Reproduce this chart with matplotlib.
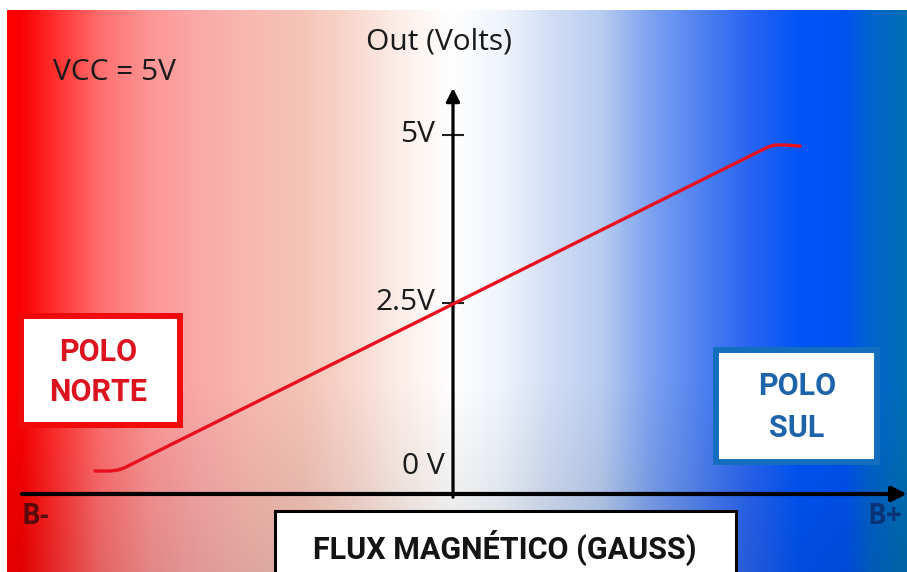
import numpy as np
import matplotlib.pyplot as plt
from matplotlib.patches import Rectangle

# sensor output curve: flux (arbitrary gauss units, 0 at the vertical axis) vs output volts
flux_g = [-358, -343, -335, -329, -323, 309, 315, 322, 332, 347]
out_v = [0.0, 0.0, 0.015, 0.045, 0.089, 4.777, 4.821, 4.851, 4.851, 4.836]

tick_v = [2.5, 5.0]
tick_labels = ["2.5V", "5V"]
zero_label = "0 V"

# background colour stops (pixel column -> rgb)
grad_x = [7, 20, 50, 100, 150, 200, 250, 300, 350, 400, 450, 500, 550, 600,
          650, 700, 750, 800, 845, 870, 907]
grad_rgb = [(255, 0, 0), (250, 0, 0), (255, 40, 40), (255, 110, 110),
            (252, 150, 150), (250, 170, 168), (248, 185, 175), (245, 195, 182),
            (248, 215, 205), (252, 238, 233), (255, 255, 255), (240, 245, 252),
            (210, 222, 245), (185, 205, 240), (125, 162, 240), (80, 130, 240),
            (40, 100, 242), (0, 85, 248), (0, 82, 240), (0, 100, 205), (0, 112, 180)]

W, H = 907, 572
fig = plt.figure(figsize=(W / 100, H / 100), dpi=100, facecolor="white")

# overlay axes in pixel coordinates for the decoration
bg = fig.add_axes([0, 0, 1, 1])
bg.set_xlim(0, W)
bg.set_ylim(H, 0)
bg.axis("off")

cols = np.arange(7, W)
rows = np.arange(10, H)
rgb = np.array(grad_rgb, dtype=float) / 255
img = np.stack([np.interp(cols, grad_x, rgb[:, k]) for k in range(3)], axis=-1)
shade = 1 - 0.10 * np.clip((rows - 380) / 190, 0, 1)
img = img[None, :, :] * shade[:, None, None]
bg.imshow(img, extent=[7, W, H, 10], aspect="auto", interpolation="bilinear", zorder=0)

label_font = dict(family="Open Sans", color="#1a1a1a", fontsize=21.5)
box_font = dict(family="Roboto", fontweight="bold", fontsize=22)

# pole boxes
bg.add_patch(Rectangle((21, 316), 159, 109, facecolor="white", edgecolor="#f00a0a", lw=4.3, zorder=2))
bg.text(98, 352, "POLO", ha="center", va="center", color="#dc1420", zorder=3, **box_font)
bg.text(98, 392, "NORTE", ha="center", va="center", color="#dc1420", zorder=3, **box_font)

bg.add_patch(Rectangle((716, 350), 161, 112, facecolor="white", edgecolor="#146ebe", lw=4.3, zorder=2))
bg.text(797, 386, "POLO", ha="center", va="center", color="#1e64aa", zorder=3, **box_font)
bg.text(797, 428, "SUL", ha="center", va="center", color="#1e64aa", zorder=3, **box_font)

bg.add_patch(Rectangle((274.5, 510.5), 461, 80, facecolor="white", edgecolor="black", lw=2.2,
                       zorder=2, clip_on=True))
bg.text(505, 548, "FLUX MAGNÉTICO (GAUSS)", ha="center", va="center", color="#141414",
        zorder=3, **box_font)

bg.text(53, 73, "VCC = 5V", ha="left", va="center", **label_font)
bg.text(439, 42, "Out (Volts)", ha="center", va="center", **label_font)
bg.text(22, 517, "B-", ha="left", va="center", fontsize=20, family="Open Sans", fontweight="bold",
        color="#5a0a0a")
bg.text(902, 517, "B+", ha="right", va="center", fontsize=20, family="Open Sans", fontweight="bold",
        color="#0a3478")

# chart axes in data units: x = flux, y = volts (0 V at pixel row 471, 67.2 px per volt)
ax = fig.add_axes([0, 0, 1, 1], zorder=5)
ax.patch.set_alpha(0)
ax.axis("off")
ax.set_xlim(-453, 454)
ax.set_ylim((471 - H) / 67.2, 471 / 67.2)

x_axis_v = -0.342
ax.annotate("", xy=(454, x_axis_v), xytext=(-431, x_axis_v),
            arrowprops=dict(arrowstyle="-|>", lw=3, color="black", mutation_scale=22,
                            shrinkA=0, shrinkB=0))
ax.annotate("", xy=(0, 5.70), xytext=(0, -0.39),
            arrowprops=dict(arrowstyle="-|>", lw=2.3, color="black", mutation_scale=20,
                            shrinkA=0, shrinkB=0))

for v, lab in zip(tick_v, tick_labels):
    ax.plot([-10, 10], [v, v], color="#222222", lw=1.5)
    ax.text(-18, v, lab, ha="right", va="center", **label_font)
ax.text(-8, 0.07, zero_label, ha="right", va="center", **label_font)

ax.plot(flux_g, out_v, color="#e8101e", lw=2.4, solid_capstyle="round", solid_joinstyle="round", zorder=4)

fig.savefig("out.png", dpi=100, facecolor="white")
